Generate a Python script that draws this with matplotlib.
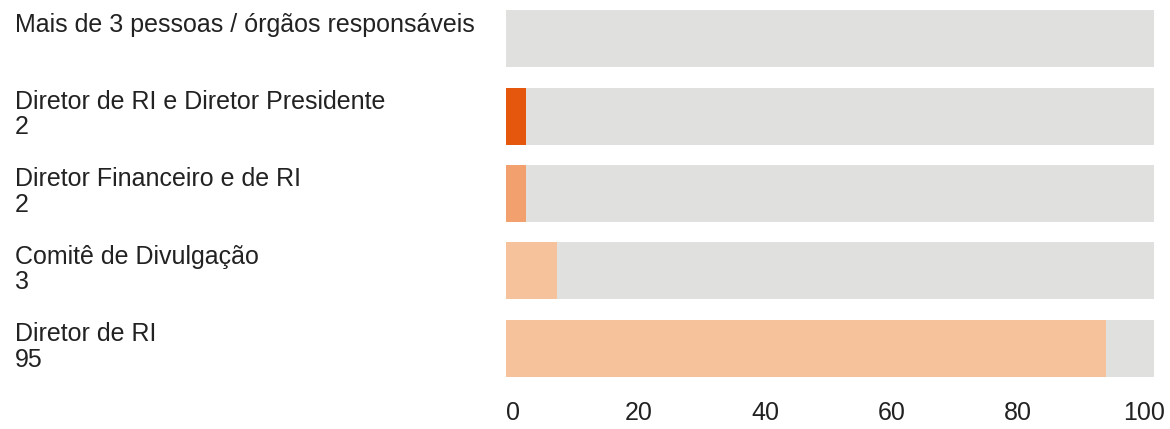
import matplotlib.pyplot as plt
import matplotlib.transforms as mtransforms

categories = ["Mais de 3 pessoas / órgãos responsáveis",
              "Diretor de RI e Diretor Presidente",
              "Diretor Financeiro e de RI",
              "Comitê de Divulgação",
              "Diretor de RI"]
value_labels = ["", "2", "2", "3", "95"]
bar_values = [0, 2, 2, 7, 94]
bar_colors = ["#F6C29C", "#E6570E", "#F2A16E", "#F6C29C", "#F6C29C"]
track_color = "#E0E0DF"

plt.rcParams['font.family'] = ['Liberation Sans', 'DejaVu Sans']

fig = plt.figure(figsize=(11.7, 4.29), dpi=100)
ax = fig.add_axes([0.4325, 0.098, 0.9863 - 0.4325, 0.902])

xmin, xmax = -1.1, 101.6
ax.set_xlim(xmin, xmax)
ax.set_ylim(len(categories) - 0.5, -0.5)

y = list(range(len(categories)))
h = 0.735
# grey track behind each bar
ax.barh(y, [xmax - xmin] * len(y), left=xmin, height=h, color=track_color, zorder=1)
ax.barh(y, [v - xmin if v > 0 else 0 for v in bar_values], left=xmin, height=h,
        color=bar_colors, zorder=2)

trans = mtransforms.blended_transform_factory(fig.transFigure, ax.transData)
for i, (cat, lab) in enumerate(zip(categories, value_labels)):
    txt = cat if lab == "" else cat + "\n" + lab
    ax.text(15 / 1170, i - h / 2 + 0.03, txt, transform=trans, ha='left', va='top',
            fontsize=18, color='#222222', linespacing=1.08)

ax.set_xticks([0, 20, 40, 60, 80, 100])
ax.set_yticks([])
ax.tick_params(axis='x', length=0, pad=10, labelsize=18, labelcolor='#222222')
for s in ax.spines.values():
    s.set_visible(False)

fig.savefig("out.png", dpi=100)
